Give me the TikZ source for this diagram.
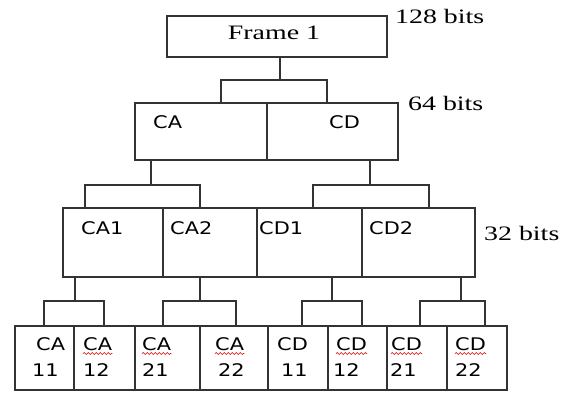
\documentclass[tikz,border=0pt]{standalone}
\usepackage{fontspec}
\setmainfont{Liberation Serif}
\setsansfont{DejaVu Sans}
\usepackage{graphicx}
\usepackage{tikz}
\usetikzlibrary{positioning}
\usetikzlibrary{decorations.pathmorphing}

\newcommand{\wideser}[1]{\scalebox{1.36}[1]{#1}}
\newcommand{\widesans}[1]{\scalebox{1.2}[1]{#1}}

\tikzset{
  blk/.style={draw=black!80, line width=1.4pt, inner sep=0pt, outer sep=0pt, anchor=north west},
  link/.style={draw=black!80, line width=1.4pt},
  bits/.style={font=\fontsize{20.5}{23}\selectfont, inner sep=0pt, anchor=base west},
  lbl/.style={font=\sffamily\fontsize{17.4}{20}\selectfont, inner sep=0pt, anchor=base west},
  typo/.style={draw=red!85!black, line width=0.6pt, decorate,
    decoration={snake, amplitude=0.9pt, segment length=4pt}}
}

\begin{document}
\begin{tikzpicture}[x=1pt,y=-1pt]
\useasboundingbox (0,0) rectangle (572,392);

% boxes
\node[blk, minimum width=220pt, minimum height=41pt] (frame) at (167,16) {};
\node[blk, minimum width=132pt, minimum height=57pt] (ca)  at (135,103) {};
\node[blk, minimum width=131pt, minimum height=57pt] (cd)  at (ca.north east) {};
\node[blk, minimum width=100pt, minimum height=69pt] (ca1) at (63,208) {};
\node[blk, minimum width=94pt,  minimum height=69pt] (ca2) at (ca1.north east) {};
\node[blk, minimum width=105pt, minimum height=69pt] (cd1) at (ca2.north east) {};
\node[blk, minimum width=113pt, minimum height=69pt] (cd2) at (cd1.north east) {};
\node[blk, minimum width=59pt,  minimum height=64pt] (ca11) at (15,326) {};
\foreach \n/\p/\w in {ca12/ca11/61, ca21/ca12/65, ca22/ca21/68, cd11/ca22/60,
                      cd12/cd11/59, cd21/cd12/60, cd22/cd21/60}
  \node[blk, minimum width=\w pt, minimum height=64pt] (\n) at (\p.north east) {};

% forks
\foreach \p/\s/\len/\a/\ax/\b/\bx in {frame/113/23/ca/86/cd/60,
    ca/16/25/ca1/22/ca2/37, cd/103/25/cd1/56/cd2/67,
    ca1/12/24/ca11/29/ca12/30, ca2/37/24/ca21/28/ca22/36,
    cd1/75/24/cd11/34/cd12/34, cd2/99/24/cd21/33/cd22/38}
  \draw[link] ([xshift=\s pt]\p.south west) -- ++(0,\len) coordinate (j)
    ([xshift=\ax pt]\a.north west) |- (j) -| ([xshift=\bx pt]\b.north west);

% texts
\node[bits, anchor=base] (ftxt) at (274,39) {\wideser{Frame 1}};
\node[bits] (b128) at (395,23)  {\wideser{128 bits}};
\node[bits] (b64)  at (408,110) {\wideser{64 bits}};
\node[bits] (b32)  at (484,240) {\wideser{32 bits}};

\node[lbl] (catxt) at (153,128) {\widesans{CA}};
\node[lbl] (cdtxt) at (329,128) {\widesans{CD}};
\foreach \n/\x/\t in {ca1/81/CA1, ca2/170/CA2, cd1/259/CD1, cd2/369/CD2}
  \node[lbl] (\n-t) at (\x,234) {\widesans{\t}};

\foreach \n/\xa/\xb/\u/\v in {ca11/36/32/CA/11, ca12/83/83/CA/12,
    ca21/142/142/CA/21, ca22/215/218/CA/22, cd11/277/281/CD/11,
    cd12/336/333/CD/12, cd21/391/390/CD/21, cd22/455/455/CD/22}
{
  \node[lbl] (\n-u) at (\xa,350) {\widesans{\u}};
  \node[lbl] (\n-v) at (\xb,376) {\widesans{\v}};
}

% spell-check marks
\foreach \n in {ca12, ca21, ca22, cd12, cd21, cd22}
  \draw[typo] ([yshift=-3.5pt]\n-u.base west) -- ([yshift=-3.5pt]\n-u.base east);

\end{tikzpicture}
\end{document}
